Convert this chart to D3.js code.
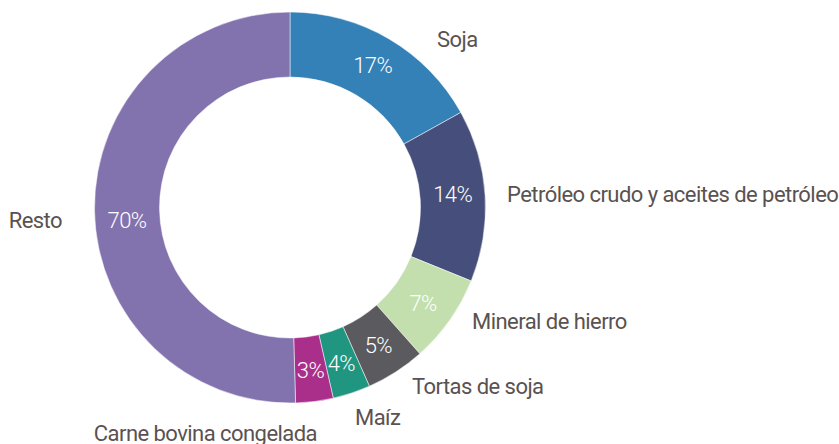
<!DOCTYPE html>
<html>
<head>
<meta charset="utf-8">
<script src="https://cdn.jsdelivr.net/npm/d3@7"></script>
<style>
  body { margin: 0; background: #fff; }
  text { font-family: Roboto, "Noto Sans", sans-serif; }
</style>
</head>
<body>
<div id="chart"></div>
<script>
// categories, share of the circle and printed labels
let categories = ["Soja", "Petróleo crudo y aceites de petróleo", "Mineral de hierro",
                  "Tortas de soja", "Maíz", "Carne bovina congelada", "Resto"];
let shares = [16.9, 14.2, 7.3, 4.9, 3.1, 3.1, 50.4];
let pctLabels = ["17%", "14%", "7%", "5%", "4%", "3%", "70%"];
let colors = ["#3381b6", "#464f7b", "#c2dfad", "#5b5a5f", "#20957f", "#aa2f8b", "#8272ae"];

let width = 839;
let height = 444;
let cx = 290, cy = 207.5;
let outerR = 195.5, innerR = 130.5;

// where each category name sits, relative to the centre (x, baseline, anchor)
let namePos = [
    [147, -161, "start"],
    [217, -6, "start"],
    [182, 121, "start"],
    [122, 186, "start"],
    [65, 217, "start"],
    [27, 233.5, "end"],
    [-228, 20, "end"]
];
// small vertical shift of the percentage inside a slice
let pctShift = [-2, -3, 2, 1, 1, 1, 10];

let data = categories.map((c, i) => ({ name: c, value: shares[i], label: pctLabels[i], color: colors[i] }));

let svg = d3.select("#chart")
    .append("svg")
    .attr("width", width)
    .attr("height", height);

let g = svg.append("g")
    .attr("transform", `translate(${cx}, ${cy})`);

let pie = d3.pie()
    .sort(null)
    .value((d) => d.value);

let arc = d3.arc()
    .innerRadius(innerR)
    .outerRadius(outerR);

let arcs = pie(data);

g.selectAll("path.slice")
    .data(arcs)
    .enter()
    .append("path")
    .attr("class", "slice")
    .attr("d", arc)
    .attr("fill", (d) => d.data.color)
    .attr("stroke", "#fff")
    .attr("stroke-width", 0.5);

g.selectAll("text.pct")
    .data(arcs)
    .enter()
    .append("text")
    .attr("class", "pct")
    .attr("transform", (d, i) => {
        let c = arc.centroid(d);
        return `translate(${c[0]}, ${c[1] + pctShift[i]})`;
    })
    .attr("text-anchor", "middle")
    .attr("dy", "0.35em")
    .attr("fill", "#fff")
    .attr("font-size", 22)
    .attr("font-weight", 300)
    .attr("letter-spacing", -0.6)
    .text((d) => d.data.label);

g.selectAll("text.name")
    .data(arcs)
    .enter()
    .append("text")
    .attr("class", "name")
    .attr("x", (d, i) => namePos[i][0])
    .attr("y", (d, i) => namePos[i][1])
    .attr("text-anchor", (d, i) => namePos[i][2])
    .attr("fill", "#5a5251")
    .attr("font-size", 22)
    .attr("letter-spacing", -0.55)
    .text((d) => d.data.name);
</script>
</body>
</html>
